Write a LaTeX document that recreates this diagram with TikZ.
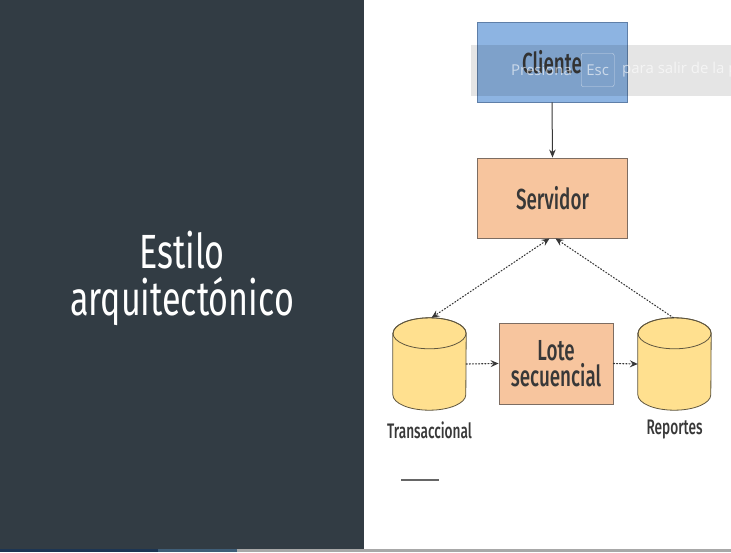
\documentclass[tikz,border=0pt]{standalone}
\usepackage{fontspec}
\setmainfont{Fira Sans}
\newfontfamily\titlefont[FakeStretch=0.71]{Fira Sans}
\newfontfamily\condfont[FakeStretch=0.65]{Fira Sans Medium}
\newfontfamily\uifont{Open Sans}
\usetikzlibrary{arrows.meta}

\definecolor{panel}{HTML}{323C44}
\definecolor{clientfill}{HTML}{8DB4E2}
\definecolor{clientline}{HTML}{5F7FA8}
\definecolor{serverfill}{HTML}{F7C59E}
\definecolor{serverline}{HTML}{7D6D62}
\definecolor{dbfill}{HTML}{FFE08F}
\definecolor{dbline}{HTML}{5F563F}
\definecolor{ink}{HTML}{383838}
\definecolor{progress}{HTML}{1C3553}
\definecolor{progresslight}{HTML}{3F5E78}
\definecolor{track}{HTML}{A8A8A8}

\tikzset{
  box/.style={draw, line width=0.9pt, minimum width=150pt, minimum height=80pt,
    inner sep=0pt, align=center, text=ink, font=\condfont\fontsize{29}{27}\selectfont},
  clientbox/.style={box, fill=clientfill, draw=clientline},
  serverbox/.style={box, fill=serverfill, draw=serverline},
  dbanchor/.style={minimum width=73pt, minimum height=92pt, inner sep=0pt},
  dbbody/.style={fill=dbfill, draw=dbline, line width=0.8pt},
  dblabel/.style={text=ink, font=\condfont\fontsize{21}{21}\selectfont, inner sep=0pt},
  solidarrow/.style={draw=ink, line width=1pt, -{Stealth[length=8pt,width=6.5pt]}},
  dotarrow/.style={draw=ink, line width=1.1pt, dotted, line cap=round,
    -{Stealth[length=8pt,width=7pt,inset=3pt]}},
  dotboth/.style={dotarrow, {Stealth[length=8pt,width=7pt,inset=3pt]}-{Stealth[length=8pt,width=7pt,inset=3pt]}},
  hinttext/.style={text=white, opacity=0.6, inner sep=0pt,
    font=\uifont\fontsize{15}{15}\selectfont},
}

% draws a vertical database cylinder over an anchor node
\newcommand{\dbcyl}[1]{%
  \path[dbbody] ([yshift=-15.5pt]#1.north west) -- ([yshift=15.5pt]#1.south west)
    arc[start angle=180, end angle=360, x radius=36.5pt, y radius=15.5pt]
    -- ([yshift=-15.5pt]#1.north east)
    arc[start angle=0, end angle=180, x radius=36.5pt, y radius=15.5pt] -- cycle;
  \draw[dbline, line width=0.8pt] ([yshift=-15.5pt]#1.north)
    ellipse[x radius=36.5pt, y radius=15.5pt];
}

\begin{document}
\begin{tikzpicture}[x=1pt, y=-1pt]
  \useasboundingbox (0,0) rectangle (731,552);
  \clip (0,0) rectangle (731,552);

  % slide halves
  \fill[white] (0,0) rectangle (731,552);
  \fill[panel] (0,0) rectangle (364,552);

  % slide title
  \node[text=white, align=center, font=\titlefont\fontsize{48}{47}\selectfont]
    (title) at (182,278) {Estilo\\arquitectónico};

  % nodes
  \node[clientbox] (cliente) at (552,62) {Cliente};
  \node[serverbox] (servidor) at (552.5,198) {Servidor};
  \node[serverbox, minimum width=114pt, minimum height=81pt] (lote) at (556,363.5)
    {Lote\\[-1pt]secuencial};
  \node[dbanchor] (trans) at (429.5,364) {};
  \node[dbanchor] (rep) at (674.5,364) {};
  \dbcyl{trans}
  \dbcyl{rep}
  \node[dblabel] (translbl) at (429.5,430) {Transaccional};
  \node[dblabel] (replbl) at (674.5,430) {Reportes};

  % connectors
  \draw[solidarrow] (cliente.south) -- (servidor.north);
  \draw[dotboth] ([xshift=-3pt]servidor.south) -- ([xshift=2pt]trans.north);
  \draw[dotarrow] ([xshift=-1pt]rep.north) -- ([xshift=3pt]servidor.south);
  \draw[dotarrow] (trans.east) -- (lote.west);
  \draw[dotarrow] (lote.east) -- (rep.west);

  % short rule below the diagram
  \coordinate (rulea) at (401,480);
  \coordinate (ruleb) at (439,480);
  \draw[gray!80!black, line width=1.2pt] (rulea) -- (ruleb);

  % player hint bar
  \fill[black, opacity=0.1] (471,45) rectangle (731,96);
  \node[hinttext, anchor=west] (hintA) at (511,70) {Presiona};
  \node[hinttext, draw=white, rounded corners=2pt, minimum width=33pt,
    minimum height=33pt, anchor=west] (esc) at (581,70) {Esc};
  \node[hinttext, anchor=west] (hintB) at (622,70) {para salir de la pantalla completa};

  % bottom progress strip
  \fill[progress] (0,549) rectangle (158,552);
  \fill[progresslight] (158,549) rectangle (237,552);
  \fill[track] (237,549) rectangle (731,552);
\end{tikzpicture}
\end{document}
